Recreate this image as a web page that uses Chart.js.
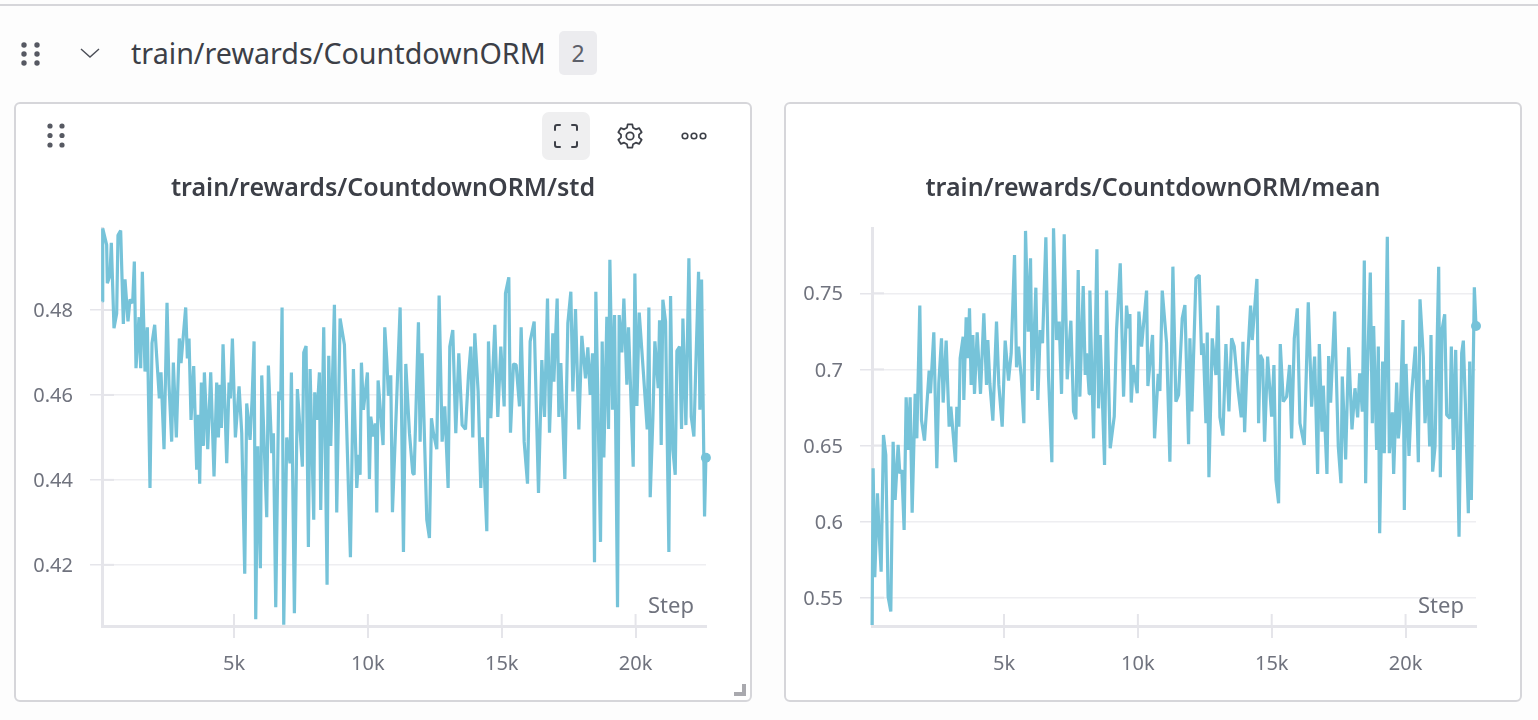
<!DOCTYPE html>
<html>
<head>
<meta charset="utf-8">
<title>train/rewards/CountdownORM</title>
<script src="https://cdn.jsdelivr.net/npm/chart.js@4"></script>
<style>
  html, body { margin: 0; padding: 0; background: #fdfdfd; font-family: "Noto Sans", sans-serif; }
  body { position: relative; width: 1538px; height: 720px; overflow: hidden; }
  .top-line { position: absolute; left: 0; top: 4px; width: 1538px; height: 2px; background: #d6d6da; }
  .section-name { position: absolute; left: 131px; top: 34px; font-size: 28.7px; line-height: 38px; color: #3c3f47; white-space: nowrap; }
  .badge { position: absolute; left: 559px; top: 31px; width: 38px; height: 44px; line-height: 44px; text-align: center; background: #ececef; border-radius: 5px; font-size: 23px; color: #5d606a; }
  .panel { position: absolute; top: 102px; width: 738px; height: 600px; background: #fff; border: 2px solid #d6d6da; border-radius: 6px; box-sizing: border-box; }
  .panel canvas { position: absolute; left: -1px; top: -1px; }
  .icon { position: absolute; }
  .full-btn { position: absolute; left: 526px; top: 8px; width: 48px; height: 48px; background: #efeff0; border-radius: 7px; }
</style>
</head>
<body>
<div class="top-line"></div>
<svg class="icon" style="left:18px;top:38px" width="26" height="32" fill="#565962">
  <circle cx="6" cy="7" r="2.7"/><circle cx="19" cy="7" r="2.7"/>
  <circle cx="6" cy="16" r="2.7"/><circle cx="19" cy="16" r="2.7"/>
  <circle cx="6" cy="25" r="2.7"/><circle cx="19" cy="25" r="2.7"/>
</svg>
<svg class="icon" style="left:78px;top:44px" width="24" height="18" fill="none" stroke="#4b4e57" stroke-width="1.4">
  <path d="M3 5 L12 13 L21 5"/>
</svg>
<div class="section-name">train/rewards/CountdownORM</div>
<div class="badge">2</div>

<div class="panel" style="left:14px">
  <canvas id="stdChart" width="736" height="598"></canvas>
  <svg class="icon" style="left:28px;top:15px" width="26" height="32" fill="#565962">
    <circle cx="6" cy="7" r="2.6"/><circle cx="18" cy="7" r="2.6"/>
    <circle cx="6" cy="16.5" r="2.6"/><circle cx="18" cy="16.5" r="2.6"/>
    <circle cx="6" cy="26" r="2.6"/><circle cx="18" cy="26" r="2.6"/>
  </svg>
  <div class="full-btn"></div>
  <svg class="icon" style="left:538px;top:20px" width="24" height="24" fill="none" stroke="#3c3f47" stroke-width="2" stroke-linecap="round">
    <path d="M1 6 V3 Q1 1 3 1 H6"/><path d="M18 1 H21 Q23 1 23 3 V6"/>
    <path d="M1 18 V21 Q1 23 3 23 H6"/><path d="M18 23 H21 Q23 23 23 21 V18"/>
  </svg>
  <svg class="icon" style="left:600px;top:18px" width="28" height="28" viewBox="0 0 24 24" fill="none" stroke="#3c3f47" stroke-width="1.5" stroke-linejoin="round">
    <path d="M10 2 H14 L14.6 5 L17 6.3 L19.8 5.2 L22 8.8 L19.7 10.8 V13.2 L22 15.2 L19.8 18.8 L17 17.7 L14.6 19 L14 22 H10 L9.4 19 L7 17.7 L4.2 18.8 L2 15.2 L4.3 13.2 V10.8 L2 8.8 L4.2 5.2 L7 6.3 L9.4 5 Z"/>
    <circle cx="12" cy="12" r="3.2"/>
  </svg>
  <svg class="icon" style="left:664px;top:26px" width="30" height="12" fill="none" stroke="#3c3f47" stroke-width="1.6">
    <circle cx="5" cy="6" r="2.8"/><circle cx="14" cy="6" r="2.8"/><circle cx="23" cy="6" r="2.8"/>
  </svg>
  <svg class="icon" style="left:718px;top:580px" width="12" height="12" fill="#a9a9ae">
    <path d="M8 0 H12 V12 H0 V8 H8 Z"/>
  </svg>
</div>

<div class="panel" style="left:784px">
  <canvas id="meanChart" width="736" height="598"></canvas>
</div>

<script>
const stdSteps = [92,95,242,267,366,416,516,616,665,765,865,927,1039,1114,1214,1276,1338,1450,1513,1575,1675,1762,1861,1936,2036,2210,2272,2385,2497,2571,2671,2733,2845,2957,3020,3194,3257,3319,3394,3493,3605,3668,3717,3780,3855,3892,4017,4129,4253,4353,4415,4478,4527,4590,4727,4814,4864,4939,5051,5188,5288,5400,5474,5599,5674,5749,5811,5886,5985,6035,6222,6284,6409,6471,6558,6670,6745,6795,6857,6969,7093,7143,7255,7367,7554,7604,7691,7778,7841,7978,8015,8090,8190,8239,8351,8476,8538,8613,8750,8837,8962,9124,9236,9348,9460,9585,9660,9709,9759,9834,9983,10058,10108,10208,10282,10332,10382,10568,10631,10706,10768,10855,10918,11205,11329,11416,11553,11677,11727,11889,11951,12026,12201,12300,12375,12450,12574,12661,12774,12873,12998,13060,13172,13284,13396,13521,13646,13758,13845,13920,13994,14119,14219,14281,14343,14443,14505,14592,14742,14854,14966,15091,15140,15265,15327,15439,15539,15664,15726,15838,15963,16062,16212,16374,16498,16598,16710,16785,16909,16947,17071,17134,17208,17358,17470,17582,17657,17756,17881,17993,18130,18217,18305,18392,18466,18516,18691,18753,18815,18927,18990,19040,19139,19214,19326,19388,19488,19563,19675,19737,19912,19974,20049,20136,20298,20435,20497,20547,20647,20721,20846,20896,20958,21020,21120,21244,21307,21394,21481,21544,21643,21718,21768,21880,21992,22079,22179,22241,22353,22403,22465,22577,22627];
const stdValues = [.4820,.4992,.4953,.4863,.4882,.4958,.4757,.4792,.4976,.4987,.4767,.4872,.4773,.4825,.4816,.4914,.4663,.4783,.4663,.4890,.4655,.4759,.4381,.4722,.4765,.4592,.4653,.4472,.4817,.4624,.4490,.4676,.4500,.4733,.4675,.4806,.4686,.4733,.4541,.4668,.4424,.4553,.4391,.4629,.4480,.4653,.4472,.4653,.4408,.4629,.4500,.4624,.4522,.4719,.4439,.4629,.4592,.4733,.4500,.4620,.4510,.4179,.4580,.4494,.4588,.4726,.4072,.4479,.4192,.4646,.4312,.4669,.4463,.4510,.4100,.4608,.4588,.4806,.4059,.4500,.4439,.4653,.4086,.4614,.4431,.4700,.4715,.4242,.4661,.4306,.4606,.4541,.4653,.4329,.4759,.4153,.4692,.4480,.4812,.4323,.4780,.4718,.4463,.4218,.4661,.4381,.4459,.4412,.4676,.4565,.4653,.4402,.4549,.4502,.4533,.4323,.4634,.4482,.4759,.4682,.4598,.4646,.4324,.4806,.4230,.4673,.4510,.4416,.4412,.4771,.4490,.4698,.4306,.4263,.4545,.4510,.4472,.4834,.4490,.4573,.4381,.4714,.4753,.4510,.4698,.4529,.4519,.4647,.4714,.4500,.4745,.4608,.4381,.4500,.4424,.4279,.4726,.4545,.4765,.4548,.4714,.4573,.4839,.4877,.4511,.4673,.4671,.4573,.4759,.4490,.4391,.4726,.4773,.4369,.4682,.4548,.4827,.4511,.4745,.4631,.4827,.4548,.4675,.4402,.4769,.4843,.4608,.4802,.4519,.4739,.4639,.4712,.4600,.4698,.4206,.4843,.4254,.4726,.4453,.4784,.4520,.4918,.4565,.4788,.4100,.4788,.4700,.4827,.4624,.4759,.4431,.4886,.4574,.4794,.4647,.4519,.4806,.4359,.4545,.4726,.4616,.4776,.4482,.4824,.4773,.4230,.4833,.4471,.4412,.4704,.4714,.4520,.4780,.4529,.4922,.4549,.4502,.4647,.4890,.4565,.4872,.4314,.4452];

const meanSteps = [72,110,172,272,321,409,496,583,670,770,857,932,1044,1106,1181,1268,1343,1430,1493,1568,1680,1742,1854,1916,2028,2203,2253,2377,2489,2564,2664,2726,2838,2950,3013,3187,3237,3312,3361,3473,3498,3586,3660,3710,3772,3835,3897,3997,4121,4246,4345,4395,4470,4582,4719,4806,4931,5043,5168,5267,5392,5467,5541,5641,5741,5803,5903,5990,6052,6189,6264,6351,6438,6563,6662,6787,6849,6961,7061,7148,7248,7360,7497,7597,7684,7771,7833,7958,8033,8083,8182,8207,8344,8469,8531,8593,8755,8830,8967,9117,9204,9341,9466,9577,9652,9702,9752,9827,9976,10038,10138,10325,10374,10548,10623,10760,10822,10910,11072,11196,11308,11420,11520,11657,11757,11894,11944,12018,12168,12292,12379,12442,12542,12591,12654,12778,12915,12990,13065,13177,13289,13401,13501,13600,13750,13862,13924,13987,14061,14211,14273,14335,14447,14510,14572,14659,14734,14846,14996,15083,15158,15257,15319,15432,15556,15668,15743,15843,15955,16055,16216,16366,16490,16602,16715,16777,16877,16926,17063,17126,17200,17275,17350,17487,17587,17636,17761,17873,17998,18110,18210,18284,18384,18459,18508,18571,18683,18758,18807,18919,18982,19032,19144,19206,19318,19393,19505,19555,19667,19729,19792,19904,19954,20016,20128,20228,20365,20477,20539,20664,20726,20826,20900,20950,21012,21100,21237,21299,21361,21461,21536,21660,21710,21785,21872,21997,22096,22158,22233,22345,22395,22457,22569,22631];
const meanValues = [.5321,.6350,.5634,.6186,.5967,.5671,.6569,.6438,.5507,.5409,.6525,.6142,.6504,.6317,.6339,.5945,.6817,.6471,.6817,.6059,.6839,.6547,.7419,.6668,.6532,.6992,.6843,.7244,.6350,.6909,.7204,.6782,.7189,.6624,.6755,.6390,.6755,.6624,.7073,.7215,.6799,.7342,.7073,.7401,.6898,.7226,.6839,.7244,.6839,.7369,.6898,.7193,.6909,.6663,.7314,.6898,.6624,.7189,.6926,.7106,.7752,.7014,.7150,.6953,.6646,.7910,.7248,.7730,.6858,.7537,.6799,.7259,.7172,.7868,.6953,.6390,.7927,.7193,.7314,.6839,.7888,.6935,.7320,.6723,.6672,.7653,.6821,.7548,.6963,.7106,.6839,.7518,.6547,.7789,.6744,.7226,.6372,.7518,.6482,.6690,.7263,.7697,.6821,.7419,.7270,.7364,.6782,.7029,.6843,.7380,.7150,.7518,.6891,.7226,.6547,.6970,.6858,.7518,.7172,.6394,.7675,.6788,.6832,.7336,.7423,.6508,.7204,.6723,.7599,.7620,.7095,.7172,.6646,.7242,.6291,.7204,.6963,.7419,.6685,.6565,.7167,.6723,.7204,.7150,.6854,.6685,.7182,.6587,.6953,.7419,.7193,.7340,.7594,.6646,.7095,.7062,.6525,.7084,.6690,.7029,.6274,.6120,.7167,.6788,.6821,.7029,.6547,.7204,.7401,.6646,.6504,.7441,.6755,.7084,.6313,.7167,.6591,.6893,.6313,.7088,.6782,.7088,.7380,.6493,.6252,.6953,.6409,.7145,.6606,.6876,.6685,.6974,.6723,.7715,.6252,.6953,.7636,.6646,.7285,.6471,.7150,.5923,.7051,.6449,.7872,.6449,.6718,.6313,.6913,.6547,.6668,.7325,.6077,.7036,.6431,.6843,.7150,.6390,.7461,.7084,.6646,.6931,.6493,.7226,.6328,.6493,.7675,.6291,.7259,.7362,.6701,.6679,.7150,.6471,.7128,.5901,.7106,.7189,.6777,.6055,.7051,.6142,.7539,.7285];

const stepTicks = [5000, 10000, 15000, 20000];
const stdTicks = [0.42, 0.44, 0.46, 0.48];
const meanTicks = [0.55, 0.6, 0.65, 0.7, 0.75];

const lineColor = "#76c3d9";
const axisColor = "#e5e5ea";
const gridColor = "#eeeef1";
const textColor = "#70737e";
const fontFamily = '"Noto Sans", sans-serif';

// short tick stubs inside the plot, and the "Step" label above the x axis
const axisExtras = {
  id: "axisExtras",
  beforeDatasetsDraw(chart) {
    const { ctx, chartArea, scales } = chart;
    ctx.save();
    ctx.strokeStyle = axisColor;
    ctx.lineWidth = 2;
    scales.x.ticks.forEach((tick) => {
      const x = scales.x.getPixelForValue(tick.value);
      ctx.beginPath();
      ctx.moveTo(x, chartArea.bottom);
      ctx.lineTo(x, chartArea.bottom - 12);
      ctx.stroke();
    });
    scales.y.ticks.forEach((tick) => {
      const y = scales.y.getPixelForValue(tick.value);
      ctx.beginPath();
      ctx.moveTo(chartArea.left, y);
      ctx.lineTo(chartArea.left + 12, y);
      ctx.stroke();
    });
    ctx.restore();
  },
  afterDraw(chart) {
    const { ctx, chartArea } = chart;
    ctx.save();
    ctx.font = `22px ${fontFamily}`;
    ctx.fillStyle = textColor;
    ctx.textAlign = "right";
    ctx.textBaseline = "middle";
    ctx.fillText("Step", chartArea.right - 12, chartArea.bottom - 19);
    ctx.restore();
  },
};

function drawPanel(canvasId, title, steps, values, yTicks, yMin, yMax) {
  const lastIndex = values.length - 1;
  new Chart(document.getElementById(canvasId), {
    type: "line",
    plugins: [axisExtras],
    data: {
      datasets: [
        {
          data: steps.map((step, i) => ({ x: step, y: values[i] })),
          borderColor: lineColor,
          backgroundColor: lineColor,
          borderWidth: 3.2,
          borderJoinStyle: "bevel",
          tension: 0,
          clip: false,
          pointRadius: (context) => (context.dataIndex === lastIndex ? 5 : 0),
          pointBorderWidth: 0,
        },
      ],
    },
    options: {
      responsive: false,
      animation: false,
      plugins: {
        legend: { display: false },
        tooltip: { enabled: false },
        title: {
          display: true,
          text: title,
          color: "#3c3f47",
          font: { family: fontFamily, size: 25, weight: "600" },
          padding: { top: 71, bottom: 24 },
        },
      },
      scales: {
        x: {
          type: "linear",
          min: 68,
          max: 22631,
          afterBuildTicks(scale) {
            scale.ticks = stepTicks.map((value) => ({ value }));
          },
          afterFit(scale) {
            scale.height = 75;
          },
          border: { display: true, color: axisColor, width: 3 },
          grid: { drawOnChartArea: false, color: axisColor, tickColor: axisColor, tickLength: 12, lineWidth: 2 },
          ticks: {
            color: textColor,
            font: { family: fontFamily, size: 20 },
            padding: 14,
            maxRotation: 0,
            autoSkip: false,
            callback(value) {
              return `${value / 1000}k`;
            },
          },
        },
        y: {
          min: yMin,
          max: yMax,
          afterBuildTicks(scale) {
            scale.ticks = yTicks.map((value) => ({ value }));
          },
          afterFit(scale) {
            scale.width = 87;
          },
          border: { display: true, color: axisColor, width: 3 },
          grid: { color: gridColor, tickColor: axisColor, tickLength: 12, lineWidth: 1.5 },
          ticks: {
            color: textColor,
            font: { family: fontFamily, size: 20 },
            padding: 17,
            labelOffset: 1.5,
            autoSkip: false,
            callback(value) {
              return String(value);
            },
          },
        },
        // empty axis, only reserves the right margin so the title stays centred in the panel
        rightGap: {
          axis: "y",
          position: "right",
          afterFit(scale) {
            scale.width = 45;
          },
          border: { display: false },
          grid: { display: false },
          ticks: { display: false },
        },
      },
    },
  });
}

drawPanel("stdChart", "train/rewards/CountdownORM/std", stdSteps, stdValues, stdTicks, 0.4056, 0.4993);
drawPanel("meanChart", "train/rewards/CountdownORM/mean", meanSteps, meanValues, meanTicks, 0.5314, 0.7929);
</script>
</body>
</html>
